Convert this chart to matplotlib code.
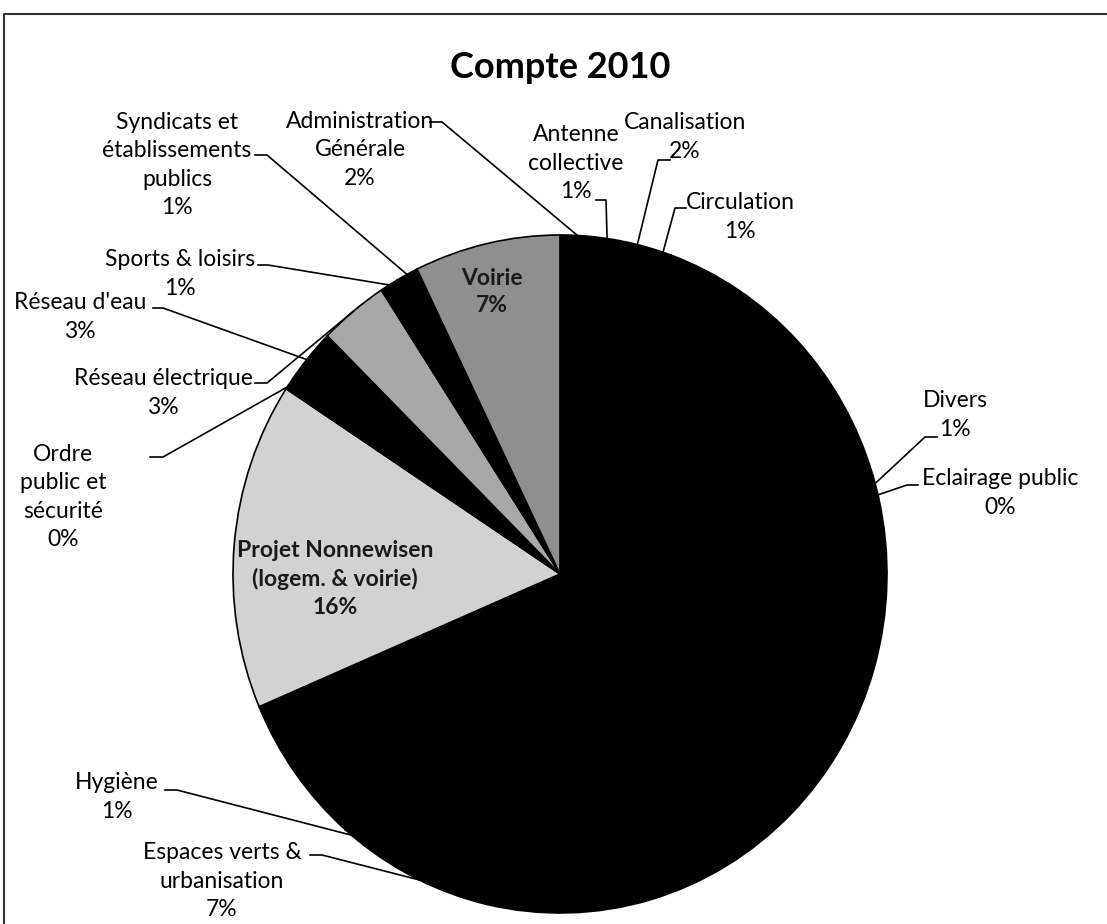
import numpy as np
import matplotlib.pyplot as plt

plt.rcParams['font.family'] = ['Lato', 'DejaVu Sans']

W, H = 1107, 924

# postes du compte 2010, ordre du graphique (sens horaire depuis midi)
# les trois grandes parts noires n'ont pas d'etiquette lisible sur le scan
postes = ['Administration\nGénérale', 'Antenne\ncollective', 'Canalisation',
          'Circulation', '', 'Divers', 'Eclairage public', '',
          'Espaces verts &\nurbanisation', 'Hygiène', '',
          'Projet Nonnewisen\n(logem. & voirie)', 'Ordre\npublic et\nsécurité',
          "Réseau d'eau", 'Réseau électrique', 'Sports & loisirs',
          'Syndicats et\nétablissements\npublics', 'Voirie']
parts = [1.7, 1.2, 1.8, 0.8, 14.8, 0.8, 0.3, 32.2, 7.0, 0.8, 7.2,
         15.6, 0.2, 3.0, 3.4, 0.9, 1.1, 7.2]
teintes = ['k', 'k', 'k', 'k', 'k', 'k', 'k', 'k', 'k', 'k', 'k',
           '#d2d2d2', 'k', 'k', '#a8a8a8', 'k', 'k', '#8f8f8f']

# placement des etiquettes : centre du texte, puis petit trait (x0, x1, y)
exterieur = {
    'Administration\nGénérale': (360, 150, 430, 442, 122),
    'Antenne\ncollective': (576, 163, 596, 606, 200),
    'Canalisation': (685, 137, 670, 658, 160),
    'Circulation': (740, 217, 686, 675, 208),
    'Divers': (955, 415, 937, 925, 437),
    'Eclairage public': (1000, 493, 918, 907, 485),
    'Espaces verts &\nurbanisation': (222, 881, 310, 322, 855),
    'Hygiène': (117, 797, 165, 177, 790),
    'Ordre\npublic et\nsécurité': (63, 497, 150, 163, 457),
    "Réseau d'eau": (80, 317, 153, 163, 308),
    'Réseau électrique': (163, 393, 255, 267, 383),
    'Sports & loisirs': (180, 274, 258, 268, 265),
    'Syndicats et\nétablissements\npublics': (177, 165, 255, 267, 155),
}
interieur = {
    'Voirie': (492, 292),
    'Projet Nonnewisen\n(logem. & voirie)': (335, 579),
}

cx, cy, rx, ry = 560, 574, 327, 339

fig = plt.figure(figsize=(W / 100, H / 100), dpi=100)

pax = fig.add_axes([(cx - rx) / W, (H - cy - ry) / H, 2 * rx / W, 2 * ry / H])
wedges, _ = pax.pie(parts, colors=teintes, startangle=90, counterclock=False,
                    wedgeprops=dict(edgecolor='k', linewidth=1.2))
pax.set_aspect('auto')
pax.set_xlim(-1, 1)
pax.set_ylim(-1, 1)
pax.axis('off')

ax = fig.add_axes([0, 0, 1, 1], facecolor='none')
ax.set_xlim(0, W)
ax.set_ylim(H, 0)
ax.axis('off')

total = sum(parts)
for w, nom, p in zip(wedges, postes, parts):
    if nom == '':
        continue
    etiquette = nom + '\n' + '%d%%' % round(p / total * 100)
    if nom in interieur:
        tx, ty = interieur[nom]
        ax.text(tx, ty, etiquette, ha='center', va='center', fontsize=16.5,
                fontweight='bold', color='#1a1a1a', linespacing=1.4)
        continue
    tx, ty, x0, x1, y0 = exterieur[nom]
    ax.text(tx, ty, etiquette, ha='center', va='center', fontsize=16.5,
            linespacing=1.45)
    a = np.deg2rad((w.theta1 + w.theta2) / 2)
    bord = pax.transData.transform((np.cos(a), np.sin(a)))
    bx, by = ax.transData.inverted().transform(bord)
    ax.plot([x0, x1, bx], [y0, y0, by], color='k', lw=1.2)

ax.text(cx, 67, 'Compte 2010', ha='center', va='center', fontsize=26,
        fontweight='bold')

# cadre du graphique
ax.plot([4, 4, W], [H, 14, 14], color='#333333', lw=1.5)

fig.savefig('out.png', dpi=100)
